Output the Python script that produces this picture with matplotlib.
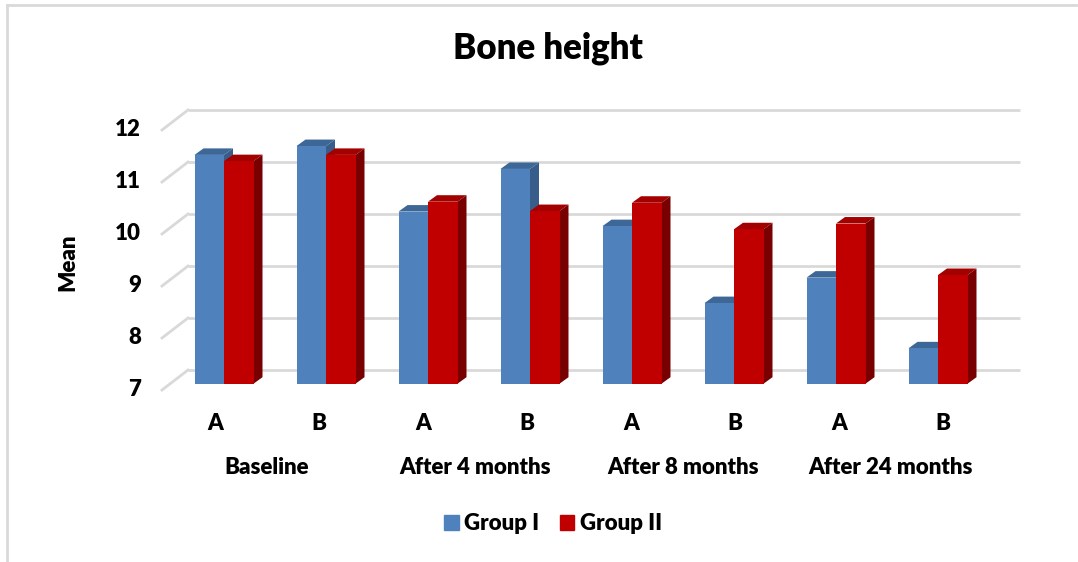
import numpy as np
import matplotlib.pyplot as plt
from matplotlib.patches import Polygon, Patch
from matplotlib.lines import Line2D

plt.rcParams["font.family"] = ["Lato", "DejaVu Sans"]
TXT_W = "heavy"

# ── data ─────────────────────────────────────────────────────────────────────
PERIODS   = ["Baseline", "After 4 months", "After 8 months", "After 24 months"]
SUBGROUPS = ["A", "B"]
SERIES    = ["Group I", "Group II"]
group_1   = [11.40, 11.57, 10.31, 11.13, 10.03, 8.55, 9.04, 7.68]
group_2   = [11.28, 11.40, 10.50, 10.32, 10.48, 9.97, 10.08, 9.09]
Y_TICKS   = [7, 8, 9, 10, 11, 12]
Y_BASE    = 7

# front / top / side shades for the pseudo-3D columns
BLUE = ("#4F81BD", "#3D6797", "#385D8A")
RED  = ("#C00000", "#A30000", "#780000")
GRID = "#D9D9D9"

# ── canvas ───────────────────────────────────────────────────────────────────
W, H, DPI = 1078, 562, 100
fig = plt.figure(figsize=(W / DPI, H / DPI), dpi=DPI)

# plot box in pixels, and pixel scale of one category / one unit
L, R, T, B = 150, 1030, 95, 400
X0_PX, X_STEP = 224, 102       # pixel of first pair centre, pixels per pair
Y0_PX, Y_STEP = 383.7, 52      # pixel of base value, pixels per unit
ax = fig.add_axes([L / W, 1 - B / H, (R - L) / W, (B - T) / H])
ax.set_xlim((L - X0_PX) / X_STEP, (R - X0_PX) / X_STEP)
ax.set_ylim(Y_BASE - (B - Y0_PX) / Y_STEP, Y_BASE + (Y0_PX - T) / Y_STEP)
ax.axis("off")

def px_x(p):
    return (p - X0_PX) / X_STEP

def dpx_y(d):
    return d / Y_STEP

# depth of a column and of the wall
DX, DY = 9 / X_STEP, dpx_y(6.5)
WALL_BACK, WALL_FRONT = dpx_y(13.7), dpx_y(-6.3)
WALL_X0, WALL_X1, WALL_XF = px_x(188), px_x(1020), px_x(162)

# back wall + side wall gridlines
for v in Y_TICKS:
    ax.plot([WALL_X0, WALL_X1], [v + WALL_BACK] * 2, color=GRID, lw=2, zorder=1,
            solid_capstyle="butt")
    ax.plot([WALL_XF, WALL_X0], [v + WALL_FRONT, v + WALL_BACK], color=GRID, lw=2,
            zorder=1)

# ── columns ──────────────────────────────────────────────────────────────────
x = np.arange(len(group_1))
BW = 29.5 / X_STEP

def draw_columns(xl, vals, shades, z):
    front, top, side = shades
    ax.bar(xl, np.array(vals) - Y_BASE, bottom=Y_BASE, width=BW, align="edge",
           color=front, zorder=z + 1, lw=0)
    for xi, v in zip(xl, vals):
        xr = xi + BW
        ax.add_patch(Polygon([(xi, v), (xi + DX, v + DY), (xr + DX, v + DY), (xr, v)],
                             closed=True, color=top, lw=0, zorder=z))
        ax.add_patch(Polygon([(xr, Y_BASE), (xr + DX, Y_BASE + DY), (xr + DX, v + DY), (xr, v)],
                             closed=True, color=side, lw=0, zorder=z))

draw_columns(x - BW, group_1, BLUE, 2)
draw_columns(x, group_2, RED, 4)

# ── axis text ────────────────────────────────────────────────────────────────
for v in Y_TICKS:
    ax.text(px_x(141), v + WALL_FRONT, str(v), ha="right", va="center",
            fontsize=16, fontweight=TXT_W)

lab_x = x * 104 / X_STEP - 9 / X_STEP
lab_y = Y_BASE - dpx_y(423 - Y0_PX)
for xi, lab in zip(lab_x, SUBGROUPS * len(PERIODS)):
    ax.text(xi, lab_y, lab, ha="center", va="center", fontsize=16, fontweight=TXT_W,
            clip_on=False)

per_y = Y_BASE - dpx_y(467 - Y0_PX)
for k, per in enumerate(PERIODS):
    ax.text(lab_x[2 * k:2 * k + 2].mean(), per_y, per, ha="center", va="center",
            fontsize=16, fontweight=TXT_W, clip_on=False)

fig.text(68 / W, 1 - 262 / H, "Mean", rotation=90, ha="center", va="center",
         fontsize=16, fontweight=TXT_W)
fig.text(548 / W, 1 - 48 / H, "Bone height", ha="center", va="center",
         fontsize=25, fontweight=TXT_W)

handles = [Patch(color=BLUE[0], label=SERIES[0]), Patch(color=RED[0], label=SERIES[1])]
fig.legend(handles=handles, loc="center", bbox_to_anchor=(553 / W, 1 - 524 / H),
           ncol=2, frameon=False, prop={"size": 16, "weight": TXT_W},
           handlelength=0.65, handleheight=0.65, handletextpad=0.25, columnspacing=0.9)

# chart border (left and top edges)
fig.add_artist(Line2D([7 / W, 7 / W], [0, 1 - 5 / H], color=GRID, lw=2))
fig.add_artist(Line2D([7 / W, 1076 / W], [1 - 5 / H, 1 - 5 / H], color=GRID, lw=2))

fig.savefig("out.png", dpi=DPI)
